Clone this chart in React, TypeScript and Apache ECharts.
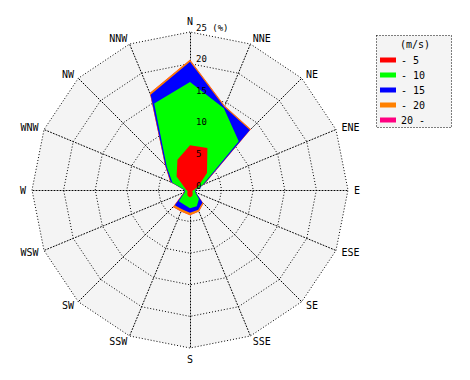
import React, { useEffect, useRef } from "react";
import * as echarts from "echarts";

// Wind directions, clockwise from north
const directions = ["N", "NNE", "NE", "ENE", "E", "ESE", "SE", "SSE", "S", "SSW", "SW", "WSW", "W", "WNW", "NW", "NNW"];
// Wind speed classes (m/s)
const speedClasses = ["- 5", "- 10", "- 15", "- 20", "20 -"];
const classColors = ["#ff0000", "#00ff00", "#0000ff", "#ff8000", "#ff0080"];

// Frequency (%) of each speed class per direction (clockwise from N)
const freqTo5 = [7.1, 7.2, 3.8, 1.4, 0.6, 0.4, 0.6, 1.0, 1.2, 1.0, 0.6, 0.4, 0.6, 0.9, 3.0, 5.2];
const freqTo10 = [10.0, 6.8, 7.1, 0.8, 0.2, 0.5, 1.4, 1.8, 1.7, 1.5, 1.9, 0.5, 0.2, 2.1, 2.2, 9.6];
const freqTo15 = [3.2, 0.2, 2.5, 0.2, 0.1, 0.1, 0.8, 0.6, 0.7, 0.8, 0.9, 0.1, 0.1, 0.3, 0.3, 1.5];
const freqTo20 = [0.3, 0.2, 0.2, 0.1, 0.0, 0.0, 0.2, 0.3, 0.4, 0.4, 0.4, 0.1, 0.0, 0.1, 0.1, 0.3];
const freqOver20 = [0.0, 0.0, 0.0, 0.0, 0.0, 0.0, 0.0, 0.0, 0.0, 0.0, 0.0, 0.0, 0.0, 0.0, 0.0, 0.0];

const radialTicks = [0, 5, 10, 15, 20, 25];
const radialTickLabels = ["0", "5", "10", "15", "20", "25 (%)"];

const MONO = "'DejaVu Sans Mono', monospace";

export default function App() {
  const ref = useRef<HTMLDivElement>(null);

  useEffect(() => {
    if (!ref.current) return;
    const chart = echarts.init(ref.current, null, { renderer: "svg" });

    const classes = [freqTo5, freqTo10, freqTo15, freqTo20, freqOver20];
    // stacked (cumulative) values per class
    const cumulative: number[][] = [];
    classes.forEach((arr, k) => {
      cumulative.push(arr.map((v, d) => (k > 0 ? cumulative[k - 1][d] : 0) + v));
    });
    // radar indicators run counter-clockwise from the top
    const ccwIdx = directions.map((_, i) => (directions.length - i) % directions.length);
    const indicators = ccwIdx.map((i) => ({ name: directions[i], min: 0, max: 25 }));

    const radarData = [4, 3, 2, 1, 0].map((k) => ({
      name: speedClasses[k],
      value: ccwIdx.map((i) => cumulative[k][i]),
      symbol: "none",
      itemStyle: { color: classColors[k] },
      lineStyle: { width: 0, opacity: 0 },
      areaStyle: { color: classColors[k], opacity: 1 },
    }));

    const dotted = { color: "#000", width: 1, type: [1, 2] as any };

    chart.setOption({
      animation: false,
      backgroundColor: "#fff",
      radar: {
        center: [190, 190],
        radius: 158,
        startAngle: 90,
        splitNumber: 5,
        shape: "polygon",
        nameGap: 6,
        axisName: { color: "#000", fontFamily: MONO, fontSize: 10 },
        indicator: indicators,
        splitLine: { lineStyle: dotted },
        axisLine: { lineStyle: dotted },
        splitArea: { show: true, areaStyle: { color: ["#f4f4f4"] } },
      },
      polar: { center: [190, 190], radius: 158 },
      angleAxis: { type: "value", min: 0, max: 360, startAngle: 90, show: false },
      radiusAxis: {
        type: "value",
        min: 0,
        max: 25,
        interval: 5,
        z: 10,
        axisLine: { show: false },
        axisTick: { show: false },
        splitLine: { show: false },
        axisLabel: {
          show: true,
          color: "#000",
          fontFamily: MONO,
          fontSize: 9,
          margin: -6,
          align: "left",
          verticalAlign: "bottom",
          formatter: (v: number) => radialTickLabels[radialTicks.indexOf(v)] ?? "",
        },
      },
      legend: {
        orient: "vertical",
        left: 380,
        top: 53,
        padding: 0,
        itemWidth: 16,
        itemHeight: 5,
        itemGap: 1,
        icon: "rect",
        data: speedClasses,
        textStyle: { color: "#000", fontFamily: MONO, fontSize: 10, lineHeight: 14 },
      },
      graphic: [
        {
          type: "rect",
          z: 0,
          shape: { x: 376.5, y: 35.5, width: 75, height: 92 },
          style: { fill: "#f4f4f4", stroke: "#000", lineWidth: 1, lineDash: [1, 2] },
        },
        {
          type: "text",
          z: 5,
          x: 400,
          y: 39,
          style: { text: "(m/s)", fill: "#000", font: "10px 'DejaVu Sans Mono'" },
        },
      ],
      series: [{ type: "radar", data: radarData, z: 2 }],
    });

    return () => chart.dispose();
  }, []);

  return (
    <div
      ref={ref}
      style={{ position: "absolute", left: 0, top: 0, width: 470, height: 380 }}
    />
  );
}
